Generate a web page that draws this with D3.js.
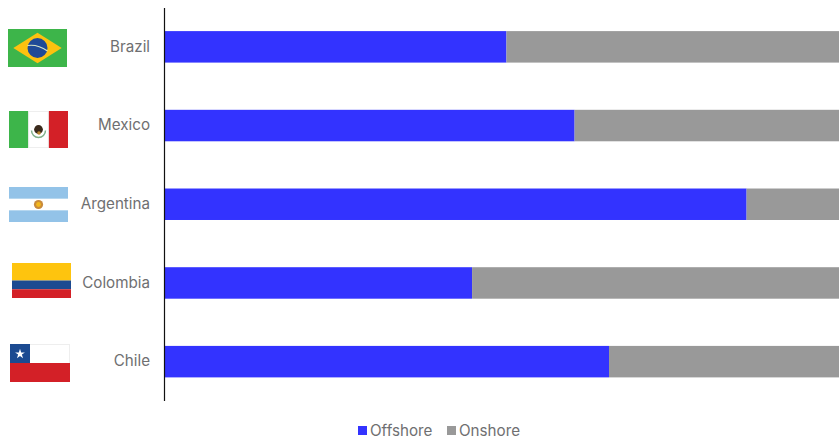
<!DOCTYPE html>
<html><head><meta charset="utf-8">
<script src="https://cdn.jsdelivr.net/npm/d3@7/dist/d3.min.js"></script>
<style>html,body{margin:0;padding:0;background:#fff}svg{display:block}text{font-family:"Inter","Liberation Sans",Arial,sans-serif;fill:#6f6f71}</style>
</head><body><svg id="c" width="839" height="439"></svg>
<script>
const categories = ["Brazil","Mexico","Argentina","Colombia","Chile"];
const offshore = [50.7,60.8,86.3,45.6,65.9];
const onshore = [49.3,39.2,13.7,54.4,34.1];
const seriesNames = ["Offshore","Onshore"];
const seriesColors = ["#3333ff","#999999"];

const svg = d3.select("#c");
const x = d3.scaleLinear().domain([0,100]).range([164.5,839]);
const y = d3.scaleBand().domain(categories).range([7.5,401]).paddingInner(0.6).paddingOuter(0.3);

const rows = categories.map((c,i)=>({c,off:offshore[i],on:onshore[i]}));
const stack = d3.stack().keys(["off","on"])(rows);
svg.selectAll("g.s").data(stack).join("g").attr("class","s").attr("fill",(d,i)=>seriesColors[i])
  .selectAll("rect").data(d=>d).join("rect")
  .attr("x",d=>x(d[0])).attr("width",d=>x(d[1])-x(d[0]))
  .attr("y",d=>y(d.data.c)).attr("height",y.bandwidth());

svg.append("line").attr("x1",164.5).attr("x2",164.5).attr("y1",8).attr("y2",401).attr("stroke","#111").attr("stroke-width",1.2);

svg.selectAll("text.cat").data(categories).join("text").attr("class","cat")
  .attr("x",150).attr("y",d=>y(d)+y.bandwidth()/2+4.8).attr("text-anchor","end")
  .attr("font-size",15.2).text(d=>d);

function flag(left,top,w,h,draw){const g=svg.append("g").attr("transform",`translate(${left},${top})`);draw(g,w,h);}
const r=(g,x0,y0,w,h,f)=>g.append("rect").attr("x",x0).attr("y",y0).attr("width",w).attr("height",h).attr("fill",f);

flag(8,29,59,38,(g,w,h)=>{
  r(g,0,0,w,h,"#3db54a");
  g.append("polygon").attr("points",`${w*.09},${h/2} ${w/2},${h*.1} ${w*.91},${h/2} ${w/2},${h*.9}`).attr("fill","#fdc20f");
  g.append("circle").attr("cx",w/2).attr("cy",h/2).attr("r",10).attr("fill","#1f4a97");
  g.append("path").attr("d",`M${w/2-10},${h/2-2.5} Q${w/2},${h/2-4} ${w/2+10},${h/2+3}`).attr("fill","none").attr("stroke","#d8e6c8").attr("stroke-width",1.2);
});
flag(9,111,59,37,(g,w,h)=>{
  r(g,0,0,w/3,h,"#3db54a");
  r(g,w/3,0,w/3,h,"#ffffff");
  r(g,w*2/3,0,w/3,h,"#d32027");
  g.append("rect").attr("x",w/3).attr("y",.5).attr("width",w/3).attr("height",h-1).attr("fill","none").attr("stroke","#eee");
  g.append("path").attr("d",`M${w/2-7},${h/2+1} A7,7 0 0 0 ${w/2+7},${h/2+1}`).attr("fill","none").attr("stroke","#7fb08a").attr("stroke-width",1.5);
  g.append("circle").attr("cx",w/2).attr("cy",h/2).attr("r",4.4).attr("fill","#3a2a1c");
  g.append("circle").attr("cx",w/2+.5).attr("cy",h/2+3.5).attr("r",1.8).attr("fill","#b8862e");
});
flag(9,187,59,35,(g,w,h)=>{
  r(g,0,0,w,h,"#ffffff");
  r(g,0,0,w,h/3,"#93c3e8");
  r(g,0,h*2/3,w,h/3,"#93c3e8");
  g.append("circle").attr("cx",w/2).attr("cy",h/2).attr("r",4.6).attr("fill","#c98a3a");
  g.append("circle").attr("cx",w/2).attr("cy",h/2).attr("r",2.4).attr("fill","#f3b81c");
});
flag(12,263,59,35,(g,w,h)=>{
  r(g,0,0,w,h/2,"#fec40e");
  r(g,0,h/2,w,h/4,"#1b4a91");
  r(g,0,h*3/4,w,h/4,"#d32027");
});
flag(10,344,60,38,(g,w,h)=>{
  r(g,0,0,w,h/2,"#ffffff");
  g.append("rect").attr("x",.5).attr("y",.5).attr("width",w-1).attr("height",h/2).attr("fill","none").attr("stroke","#eeeeee");
  r(g,0,h/2,w,h/2,"#d32027");
  r(g,0,0,20,h/2,"#1b4a91");
  g.append("path").attr("d",d3.symbol(d3.symbolStar,30)()).attr("transform",`translate(10,${h/4+.5})`).attr("fill","#fff");
});

const legendX = [358,447];
const leg = svg.selectAll("g.l").data(seriesNames).join("g").attr("class","l").attr("transform",(d,i)=>`translate(${legendX[i]},426)`);
leg.append("rect").attr("width",9).attr("height",9).attr("fill",(d,i)=>seriesColors[i]);
leg.append("text").attr("x",12).attr("y",10).attr("font-size",15.2).text(d=>d);
</script></body></html>
